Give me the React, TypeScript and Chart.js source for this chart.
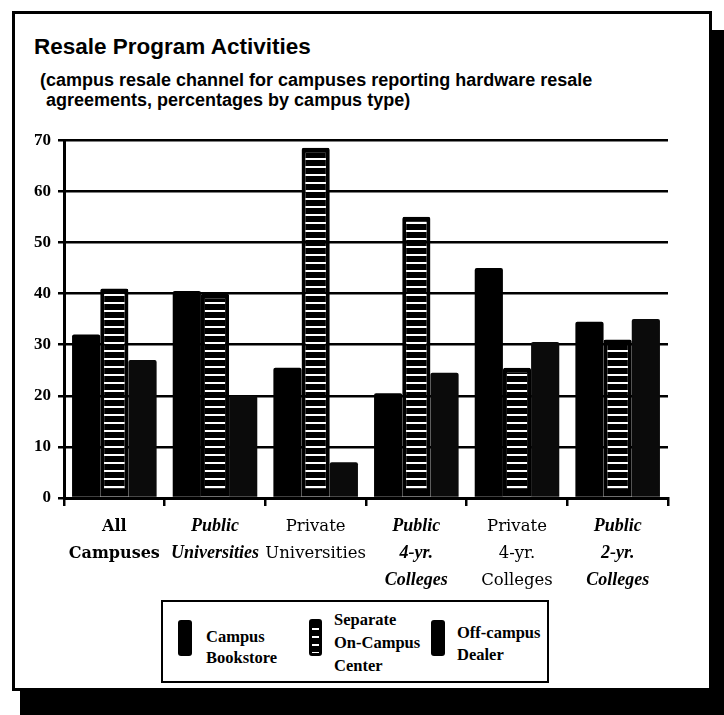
import React, { useEffect, useRef } from 'react';
import { Chart, registerables } from 'chart.js';

Chart.register(...registerables);

// ---- data ----
const categories: string[][] = [
  ['All', 'Campuses'],
  ['Public', 'Universities'],
  ['Private', 'Universities'],
  ['Public', '4-yr.', 'Colleges'],
  ['Private', '4-yr.', 'Colleges'],
  ['Public', '2-yr.', 'Colleges'],
];
const seriesNames: string[][] = [
  ['Campus', 'Bookstore'],
  ['Separate', 'On-Campus', 'Center'],
  ['Off-campus', 'Dealer'],
];
const campusBookstore = [32, 40.5, 25.5, 20.5, 45, 34.5];
const separateCenter = [41, 40, 68.5, 55, 25.5, 31];
const offCampusDealer = [27, 20, 7, 24.5, 30.5, 35];
const yMin = 0;
const yMax = 70;
const yStep = 10;

const titleText = 'Resale Program Activities';
const subtitleLines = [
  '(campus resale channel for campuses reporting hardware resale',
  'agreements, percentages by campus type)',
];

function tickFont(index: number) {
  // alternating type styles as in the original
  if (index === 0) return { family: '"DejaVu Serif", serif', size: 16, weight: 'bold', lineHeight: '27px' };
  if (index % 2 === 1)
    return { family: '"Liberation Serif", serif', size: 18, weight: 'bold', style: 'italic', lineHeight: '27px' };
  return { family: '"DejaVu Serif", serif', size: 16.5, weight: 'normal', lineHeight: '27px' };
}

export default function App() {
  const canvasRef = useRef<HTMLCanvasElement | null>(null);

  useEffect(() => {
    const canvas = canvasRef.current;
    if (!canvas) return;
    const ctx = canvas.getContext('2d')!;
    const pc = document.createElement('canvas');
    pc.width = 8;
    pc.height = 8;
    const g = pc.getContext('2d')!;
    g.fillStyle = '#000';
    g.fillRect(0, 0, 8, 8);
    g.fillStyle = '#fff';
    g.fillRect(0, 3, 8, 2);
    const hatch = ctx.createPattern(pc, 'repeat');

    const chart = new Chart(canvas, {
      type: 'bar',
      data: {
        labels: categories,
        datasets: [
          {
            label: seriesNames[0].join(' '),
            data: campusBookstore,
            backgroundColor: '#000',
            borderWidth: 0,
            borderRadius: { topLeft: 2, topRight: 2, bottomLeft: 0, bottomRight: 0 },
            borderSkipped: false,
          },
          {
            label: seriesNames[1].join(' '),
            data: separateCenter,
            backgroundColor: hatch as any,
            borderColor: '#000',
            borderWidth: { top: 5, left: 4, right: 4, bottom: 8 },
            borderRadius: { topLeft: 2, topRight: 2, bottomLeft: 0, bottomRight: 0 },
            borderSkipped: false,
          },
          {
            label: seriesNames[2].join(' '),
            data: offCampusDealer,
            backgroundColor: '#0b0b0b',
            borderWidth: 0,
            borderRadius: { topLeft: 2, topRight: 2, bottomLeft: 0, bottomRight: 0 },
            borderSkipped: false,
          },
        ],
      },
      options: {
        animation: false,
        responsive: true,
        maintainAspectRatio: false,
        datasets: { bar: { categoryPercentage: 0.84, barPercentage: 1.0 } },
        layout: { padding: { top: 13, right: 20, bottom: 7, left: 0 } },
        plugins: {
          legend: { display: false },
          title: { display: false },
          tooltip: { enabled: false },
        },
        scales: {
          x: {
            type: 'category',
            offset: true,
            grid: {
              display: true,
              drawOnChartArea: false,
              drawTicks: true,
              tickLength: 8,
              color: '#000',
              lineWidth: 2.5,
              offset: true,
            },
            border: { display: true, color: '#000', width: 3 },
            ticks: {
              color: '#000',
              font: (c: any) => tickFont(c.index) as any,
              padding: 7,
              maxRotation: 0,
              autoSkip: false,
            },
            afterFit: (s: any) => {
              s.height = 100;
            },
          },
          y: {
            min: yMin,
            max: yMax,
            ticks: {
              stepSize: yStep,
              color: '#000',
              font: { family: '"Liberation Serif", serif', size: 17, weight: 'bold' },
              padding: 7,
            },
            grid: { color: '#000', lineWidth: 2.5, tickLength: 6, drawTicks: true },
            border: { display: true, color: '#000', width: 3 },
            afterFit: (s: any) => {
              s.width = 52;
            },
          },
        },
      },
    });
    return () => chart.destroy();
  }, []);

  const legendText: React.CSSProperties = {
    position: 'absolute',
    fontFamily: '"Liberation Serif", serif',
    fontWeight: 'bold',
    fontSize: 16.5,
    color: '#000',
    whiteSpace: 'nowrap',
  };

  return (
    <div
      style={{
        position: 'absolute',
        left: 0,
        top: 0,
        width: 724,
        height: 715,
        background: '#fff',
        overflow: 'hidden',
      }}
    >
      {/* shadow bands */}
      <div style={{ position: 'absolute', left: 710, top: 30, width: 14, height: 685, background: '#000' }} />
      <div style={{ position: 'absolute', left: 20, top: 689, width: 704, height: 26, background: '#000' }} />
      {/* frame */}
      <div
        style={{
          position: 'absolute',
          left: 12,
          top: 11,
          width: 694,
          height: 674,
          border: '3px solid #000',
          background: '#fff',
        }}
      />
      {/* title */}
      <div
        style={{
          position: 'absolute',
          left: 34,
          top: 34,
          fontFamily: '"Liberation Sans", Arial, sans-serif',
          fontWeight: 'bold',
          fontSize: 22.5,
          lineHeight: '26px',
          color: '#000',
          whiteSpace: 'nowrap',
        }}
      >
        {titleText}
      </div>
      {subtitleLines.map((t, i) => (
        <div
          key={i}
          style={{
            position: 'absolute',
            left: i === 0 ? 40 : 46,
            top: 70 + i * 20,
            fontFamily: '"Liberation Sans", Arial, sans-serif',
            fontWeight: 'bold',
            fontSize: 18,
            lineHeight: '21px',
            color: '#000',
            whiteSpace: 'nowrap',
          }}
        >
          {t}
        </div>
      ))}
      {/* chart */}
      <div style={{ position: 'absolute', left: 12, top: 123, width: 676, height: 482 }}>
        <canvas ref={canvasRef} />
      </div>
      {/* legend */}
      <div
        style={{
          position: 'absolute',
          left: 161,
          top: 600,
          width: 384,
          height: 79,
          border: '2px solid #000',
          background: '#fff',
        }}
      />
      <div style={{ position: 'absolute', left: 178, top: 620, width: 14, height: 36, background: '#000', borderRadius: 3 }} />
      <div style={{ ...legendText, left: 206, top: 626, lineHeight: '21px' }}>
        {seriesNames[0].map((l, i) => (
          <div key={i}>{l}</div>
        ))}
      </div>
      <div
        style={{
          position: 'absolute',
          left: 309,
          top: 619,
          width: 13,
          height: 37,
          boxSizing: 'border-box',
          border: '3px solid #000',
          borderRadius: 3,
          background: 'repeating-linear-gradient(to bottom, #000 0px, #000 6px, #fff 6px, #fff 8px)',
        }}
      />
      <div style={{ ...legendText, left: 334, top: 608, lineHeight: '23px' }}>
        {seriesNames[1].map((l, i) => (
          <div key={i}>{l}</div>
        ))}
      </div>
      <div style={{ position: 'absolute', left: 431, top: 620, width: 14, height: 36, background: '#000', borderRadius: 3 }} />
      <div style={{ ...legendText, left: 457, top: 622, lineHeight: '22px' }}>
        {seriesNames[2].map((l, i) => (
          <div key={i}>{l}</div>
        ))}
      </div>
    </div>
  );
}
